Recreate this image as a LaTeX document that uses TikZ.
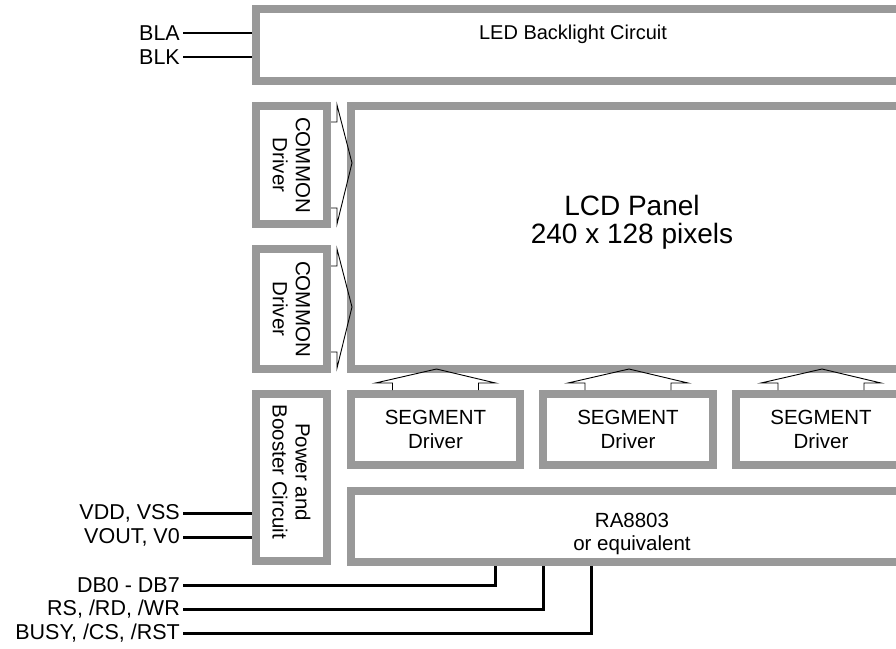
\documentclass[tikz,border=0pt]{standalone}
\usepackage{fontspec}
\setmainfont{Liberation Sans}
\usetikzlibrary{calc}
\definecolor{bandgray}{RGB}{153,153,153}
\tikzset{
  gbox/.style={draw=bandgray, line width=8pt, rectangle, inner sep=0pt, align=center, font=\fontsize{20.5}{24}\selectfont},
  vtext/.style={rotate=-90, align=center, font=\fontsize{20.5}{23}\selectfont},
  lbl/.style={anchor=east, inner sep=0pt, font=\fontsize{21.5}{24}\selectfont},
  thinw/.style={line width=1.2pt},
  bus/.style={line width=3pt},
  barrow/.style={line width=0.9pt, line join=miter},
  txt/.style={align=center, inner sep=0pt}
}
\begin{document}
\begin{tikzpicture}[x=1pt, y=-1pt]
\useasboundingbox (0,0) rectangle (896,648);
\clip (0,0) rectangle (896,648);
% boxes
\node[gbox, minimum width=657pt, minimum height=72pt] (led) at (584.5,45) {};
\node[txt, font=\fontsize{20}{24}\selectfont] (ledt) at (573,34) {LED Backlight Circuit};
\node[gbox, minimum width=71pt, minimum height=118pt] (c1) at (291.5,165) {};
\node[vtext] (c1t) at (291.5,165) {COMMON\\Driver};
\node[gbox, minimum width=71pt, minimum height=120pt] (c2) at (291.5,309) {};
\node[vtext] (c2t) at (291.5,309) {COMMON\\Driver};
\node[gbox, minimum width=562pt, minimum height=263pt] (lcd) at (632,237.5) {};
\node[txt, font=\fontsize{28}{28}\selectfont] (lcdt) at (632,222) {LCD Panel\\240 x 128 pixels};
\node[gbox, minimum width=71pt, minimum height=167pt] (pwr) at (291.5,477.5) {};
\node[vtext] (pwrt) at (291.5,472) {Power and\\Booster Circuit};
\node[gbox, minimum width=169pt, minimum height=71pt] (s1) at (435.5,429.5) {SEGMENT\\Driver};
\node[gbox, minimum width=170pt, minimum height=71pt] (s2) at (628,429.5) {SEGMENT\\Driver};
\node[gbox, minimum width=170pt, minimum height=71pt] (s3) at (821,429.5) {SEGMENT\\Driver};
\node[gbox, minimum width=562pt, minimum height=71pt] (ra) at (632,526.5) {};
\node[txt, font=\fontsize{20.5}{23}\selectfont] (rat) at (632,534) {RA8803\\or equivalent};
% common driver arrows
\foreach \b in {c1,c2}{
  \draw[barrow] ($(\b.east)+(0,-43)$) -- ++(6,0) -- ++(0,-17) -- ($(\b.east)+(21,-2)$)
     -- ($(\b.east)+(6,59)$) -- ++(0,-16) -- ($(\b.east)+(0,43)$);
}
% segment driver arrows
\foreach \b in {s1,s2,s3}{
  \draw[barrow] ($(\b.north)+(-43,0)$) -- ++(0,-7) -- ++(-17,0) -- ($(\b.north)+(1,-21)$)
     -- ($(\b.north)+(60,-7)$) -- ++(-17,0) -- ($(\b.north)+(43,0)$);
}
% backlight pins
\node[lbl] (bla) at (180,33) {BLA};
\node[lbl] (blk) at (180,57) {BLK};
\draw[thinw] ($(bla.east)+(3,0)$) -- (bla -| led.west);
\draw[thinw] ($(blk.east)+(3,0)$) -- (blk -| led.west);
% power pins
\node[lbl] (vdd) at (180,513) {VDD, VSS};
\node[lbl] (vout) at (180,537) {VOUT, V0};
\draw[bus] ($(vdd.east)+(3,0)$) -- (vdd -| pwr.west);
\draw[bus] ($(vout.east)+(3,0)$) -- (vout -| pwr.west);
% bus pins
\node[lbl] (db) at (180,585) {DB0 - DB7};
\node[lbl] (rs) at (180,609) {RS, /RD, /WR};
\node[lbl] (busy) at (180,633) {BUSY, /CS, /RST};
\coordinate (p1) at (495,566);
\coordinate (p2) at (543,566);
\coordinate (p3) at (591,566);
\draw[bus] ($(db.east)+(3,0)$) -- (db -| p1) -- (p1);
\draw[bus] ($(rs.east)+(3,0)$) -- (rs -| p2) -- (p2);
\draw[bus] ($(busy.east)+(3,0)$) -- (busy -| p3) -- (p3);
\end{tikzpicture}
\end{document}
